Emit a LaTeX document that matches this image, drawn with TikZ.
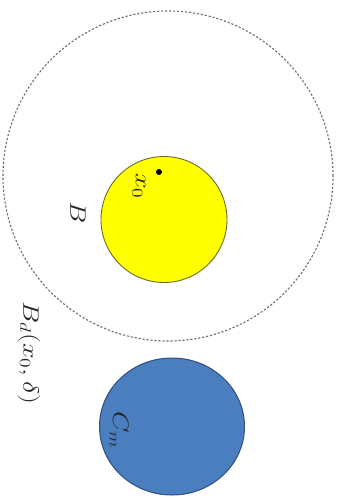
\documentclass[tikz,border=0pt]{standalone}
\usetikzlibrary{shapes.geometric}
\definecolor{ballyellow}{HTML}{FFFF00}
\definecolor{ballyedge}{HTML}{6B6B2E}
\definecolor{blobblue}{HTML}{4A7EBF}
\definecolor{blobedge}{HTML}{2F4F80}
\definecolor{dashgray}{HTML}{6E6E6E}
\definecolor{txtgray}{HTML}{262626}
\newcommand{\widetxt}[1]{\scalebox{1.35}[1.08]{#1}}
\tikzset{
  lbl/.style={rotate=-90, inner sep=0pt, text=txtgray, font=\fontsize{22}{26}\selectfont},
  ballB/.style={circle, draw=ballyedge, fill=ballyellow, line width=0.9pt, inner sep=0pt},
  ballD/.style={circle, draw=dashgray, dash pattern=on 2.2pt off 1.8pt, line width=1.1pt, inner sep=0pt},
  blob/.style={ellipse, draw=blobedge, fill=blobblue, line width=1pt, inner sep=0pt}
}
\begin{document}
\begin{tikzpicture}[x=1pt,y=-1pt]
\useasboundingbox (0,0) rectangle (345,498);
\node[ballD, minimum size=330pt] (bd) at (168,176) {};
\node[ballB, minimum size=126pt] (b) at (164,219.5) {};
\node[blob, minimum width=145pt, minimum height=137pt] (cm) at (172,426.5) {};
\node[circle, fill=black, inner sep=0pt, minimum size=6pt] (x0) at (159,172) {};
\node[lbl] (x0l) at (139,186) {\widetxt{$x_0$}};
\node[lbl] (bl) at (78,213) {\widetxt{$B$}};
\node[lbl] (bdl) at (29,353) {\widetxt{$B_d(x_0,\delta)$}};
\node[lbl] (cml) at (119,430) {\widetxt{$C_m$}};
\end{tikzpicture}
\end{document}
